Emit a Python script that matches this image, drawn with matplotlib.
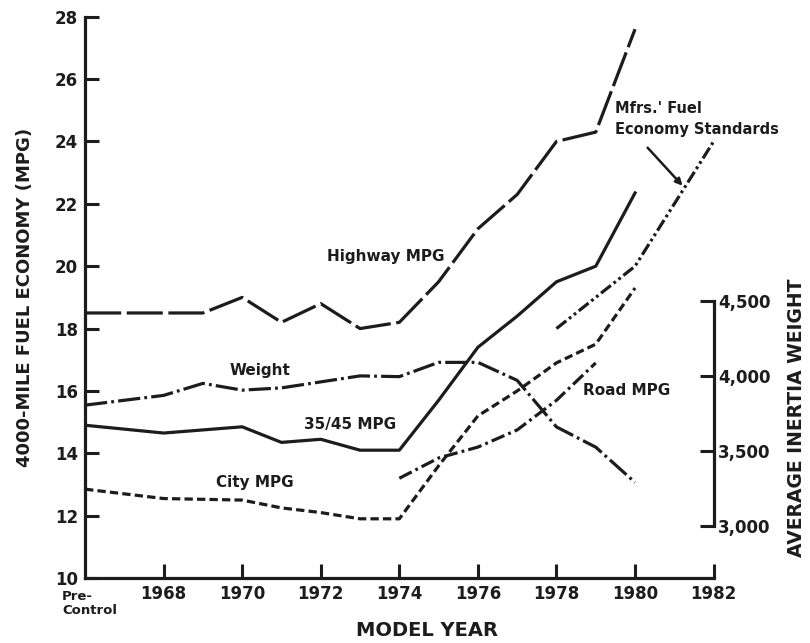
import numpy as np
import matplotlib.pyplot as plt

plt.rcParams['font.family'] = 'DejaVu Sans'
plt.rcParams['font.weight'] = 'bold'
plt.rcParams['lines.scale_dashes'] = False

ink = '#1c1c1c'

# model years (1966 = pre-control)
hwy_years = [1966, 1968, 1969, 1970, 1971, 1972, 1973, 1974, 1975, 1976, 1977, 1978, 1979, 1980]
hwy_mpg = [18.5, 18.5, 18.5, 19.0, 18.2, 18.8, 18.0, 18.2, 19.5, 21.2, 22.3, 24.0, 24.3, 27.6]

comb_years = [1966, 1968, 1970, 1971, 1972, 1973, 1974, 1975, 1976, 1977, 1978, 1979, 1980]
comb_mpg = [14.9, 14.65, 14.85, 14.35, 14.45, 14.1, 14.1, 15.7, 17.4, 18.4, 19.5, 20.0, 22.35]

city_years = [1966, 1968, 1970, 1971, 1972, 1973, 1974, 1975, 1976, 1977, 1978, 1979, 1980]
city_mpg = [12.85, 12.55, 12.5, 12.25, 12.1, 11.9, 11.9, 13.6, 15.2, 16.0, 16.9, 17.5, 19.3]

road_years = [1974, 1975, 1976, 1977, 1978, 1979]
road_mpg = [13.2, 13.85, 14.2, 14.75, 15.7, 16.9]

std_years = [1978, 1979, 1980, 1981, 1982]
std_mpg = [18.0, 19.0, 20.0, 22.0, 24.0]

wt_years = [1966, 1968, 1969, 1970, 1971, 1972, 1973, 1974, 1975, 1976, 1977, 1978, 1979, 1980]
weight = [3805, 3870, 3950, 3905, 3920, 3960, 4000, 3995, 4090, 4090, 3970, 3660, 3525, 3290]

fig = plt.figure(figsize=(8.10, 6.43), dpi=100)
ax = fig.add_axes([0.105, 0.101, 0.776, 0.873])
ax2 = ax.twinx()
ax2.set_position(ax.get_position())

lw = 2.3
l, = ax.plot(hwy_years, hwy_mpg, color=ink, lw=lw)
l.set_dashes((26, 4))
ax.plot(comb_years, comb_mpg, color=ink, lw=lw)
l, = ax.plot(city_years, city_mpg, color=ink, lw=lw)
l.set_dashes((6, 3))
l, = ax.plot(road_years, road_mpg, color=ink, lw=lw)
l.set_dashes((10, 3, 2, 3))
l, = ax.plot(std_years, std_mpg, color=ink, lw=lw)
l.set_dashes((9, 2.5, 2, 2.5, 2, 2.5))
l, = ax2.plot(wt_years, weight, color=ink, lw=lw)
l.set_dashes((16, 3, 2, 3))

ax.set_xlim(1966, 1982)
ax.set_ylim(10, 28)
ax2.set_ylim(2653, 6393)

for s in ['top', 'right']:
    ax.spines[s].set_visible(False)
for s in ['top', 'left', 'bottom']:
    ax2.spines[s].set_visible(False)
for sp in [ax.spines['left'], ax.spines['bottom'], ax2.spines['right']]:
    sp.set_linewidth(2.3)
    sp.set_color(ink)
ax.spines['left'].set_bounds(10, 28)
ax.spines['bottom'].set_bounds(1966, 1982)
ax2.spines['right'].set_bounds(3000, 4500)

ax.set_xticks(range(1968, 1983, 2))
ax.set_yticks(range(10, 29, 2))
ax2.set_yticks([3000, 3500, 4000, 4500])
ax2.set_yticklabels(['3,000', '3,500', '4,000', '4,500'])

ax.tick_params(axis='x', direction='in', length=10, width=2.2, color=ink,
               labelsize=12, pad=5, labelcolor=ink)
ax.tick_params(axis='y', direction='in', length=10, width=2.2, color=ink,
               labelsize=12, pad=5, labelcolor=ink)
ax2.tick_params(axis='y', direction='in', length=10, width=2.2, color=ink,
                labelsize=12, pad=3, labelcolor=ink)

fig.text(62/810, 1-590/643, 'Pre-\nControl', ha='left', va='top',
         fontsize=9.5, color=ink, linespacing=1.1)

fig.text(25/810, 1-297/643, '4000-MILE FUEL ECONOMY (MPG)', rotation=90,
         ha='center', va='center', fontsize=13, color=ink)
fig.text(797/810, 1-418/643, 'AVERAGE INERTIA WEIGHT', rotation=90,
         ha='center', va='center', fontsize=13.5, color=ink)
fig.text(427/810, 1-630/643, 'MODEL YEAR', ha='center', va='center',
         fontsize=14, color=ink)

lab = dict(fontsize=11, color=ink, ha='center', va='center')
ax.text(1973.66, 20.3, 'Highway MPG', **lab)
ax.text(1970.45, 16.67, 'Weight', **lab)
ax.text(1972.74, 14.91, '35/45 MPG', **lab)
ax.text(1970.32, 13.08, 'City MPG', **lab)
ax.text(1979.79, 16.03, 'Road MPG', **lab)

ax.text(1979.48, 24.73, "Mfrs.' Fuel\nEconomy Standards", fontsize=10.5,
        color=ink, ha='left', va='center', linespacing=1.5)
ax.annotate('', xy=(1981.21, 22.58), xytext=(1980.32, 23.8),
            arrowprops=dict(arrowstyle='-|>', color=ink, lw=1.8,
                            mutation_scale=10, shrinkA=0, shrinkB=0))

fig.savefig('out.png', dpi=100)
